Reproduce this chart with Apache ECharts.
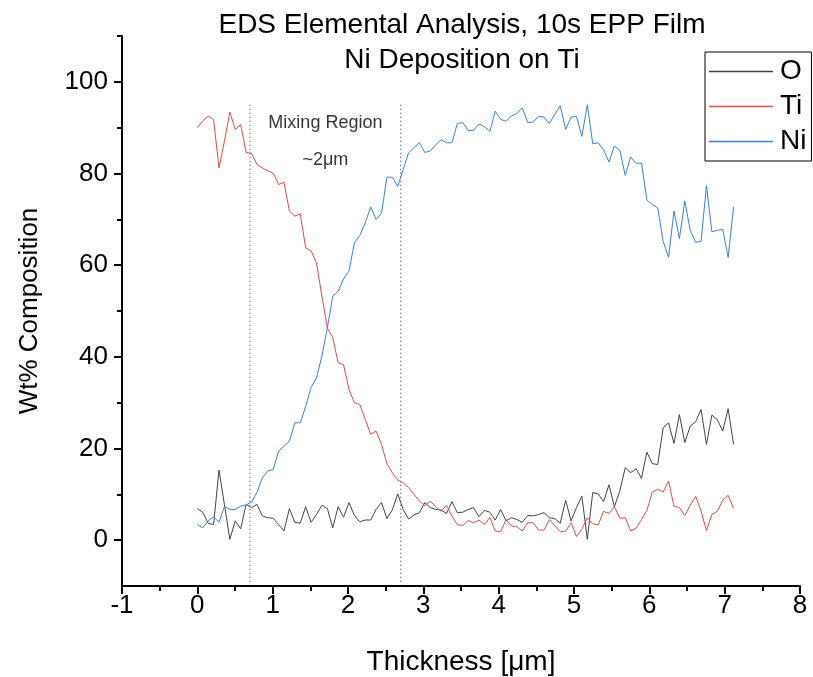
<!DOCTYPE html>
<html>
<head>
<meta charset="utf-8">
<script src="https://cdn.jsdelivr.net/npm/echarts@6/dist/echarts.min.js"></script>
<style>html,body{margin:0;padding:0;background:#fff}#c{width:813px;height:677px}</style>
</head>
<body>
<div id="c"></div>
<script>
// Sampling step along thickness (µm) for the 100 EDS points
const stepUm = 0.0719;
const oWt = [6.9, 6.1, 3.7, 3.4, 15.3, 7.8, 0.2, 4.2, 2.5, 7.8,
  7.1, 7.8, 5.3, 4.9, 4.8, 3.4, 2.0, 6.9, 3.9, 3.7,
  7.3, 3.9, 5.6, 7.6, 6.9, 2.7, 7.3, 5.0, 8.2, 5.4,
  4.0, 4.4, 4.4, 6.7, 8.2, 4.7, 6.6, 10.1, 6.7, 4.6,
  5.5, 6.0, 8.2, 7.1, 6.7, 6.6, 5.8, 8.4, 6.0, 6.1,
  6.7, 7.1, 5.1, 6.5, 6.1, 4.4, 6.7, 4.2, 4.9, 4.5,
  3.9, 5.4, 5.3, 5.6, 6.0, 4.9, 4.7, 3.7, 8.7, 4.2,
  7.1, 9.6, 0.2, 10.4, 10.1, 8.4, 12.1, 7.3, 10.7, 15.8,
  14.7, 15.6, 13.5, 19.2, 16.7, 16.5, 24.5, 25.6, 21.1, 27.4,
  21.3, 24.9, 25.8, 28.5, 20.9, 27.3, 26.3, 23.8, 28.7, 20.9];
const tiWt = [90.0, 91.5, 92.5, 91.8, 81.2, 87.0, 93.4, 89.6, 90.7, 84.6,
  84.4, 82.0, 81.2, 80.6, 80.1, 77.6, 78.1, 71.8, 70.7, 71.2,
  63.8, 63.1, 60.5, 53.2, 46.3, 44.2, 38.7, 38.3, 32.9, 30.0,
  29.6, 26.3, 23.1, 23.8, 20.9, 16.7, 14.7, 13.1, 12.5, 11.5,
  10.0, 8.5, 7.5, 8.5, 7.3, 6.3, 7.6, 5.3, 3.4, 3.2,
  4.3, 3.8, 4.4, 3.4, 5.0, 2.0, 1.8, 4.5, 3.1, 2.9,
  2.0, 3.8, 3.8, 2.2, 2.2, 4.5, 3.1, 1.8, 2.0, 3.8,
  0.8, 2.4, 4.9, 3.6, 3.3, 6.3, 5.8, 7.3, 4.8, 4.9,
  2.0, 2.6, 4.5, 6.5, 10.5, 11.1, 10.5, 12.9, 7.4, 7.1,
  5.4, 7.6, 9.6, 6.3, 2.1, 5.6, 6.3, 8.7, 9.8, 6.9];
const niWt = [3.4, 2.7, 4.2, 5.1, 3.9, 7.4, 6.7, 6.7, 7.4, 7.7,
  8.3, 10.4, 13.6, 15.1, 15.4, 19.4, 20.5, 21.6, 25.6, 25.6,
  29.2, 33.3, 35.4, 40.2, 46.3, 53.2, 54.3, 57.0, 58.7, 64.9,
  66.5, 69.2, 72.7, 70.0, 71.3, 79.2, 79.2, 77.2, 80.9, 84.5,
  85.6, 86.7, 84.6, 84.9, 86.2, 87.4, 86.7, 86.7, 90.9, 91.1,
  89.4, 89.4, 90.8, 90.2, 89.2, 93.6, 91.8, 91.4, 92.6, 93.1,
  94.3, 91.1, 91.2, 92.5, 92.3, 90.9, 92.9, 94.8, 89.6, 92.3,
  92.5, 88.1, 95.0, 86.5, 86.7, 85.2, 82.5, 86.0, 85.1, 79.6,
  83.6, 82.2, 82.3, 74.2, 73.2, 72.5, 65.2, 61.7, 71.8, 65.8,
  74.0, 67.6, 65.0, 65.2, 77.4, 67.3, 67.6, 67.8, 61.7, 72.7];
const regionBounds = [0.7, 2.7];
const regionYRange = [95, -10];
const regionTexts = ['Mixing Region', '~2\u03bcm'];
const regionTextY = [91, 83];
const yMajor = [0, 20, 40, 60, 80, 100];
const yMinor = [10, 30, 50, 70, 90, 110];

const thickness = oWt.map((_, i) => +(i * stepUm).toFixed(4));
const pairs = arr => arr.map((v, i) => [thickness[i], v]);

const FONT = 'Liberation Sans, Arial, sans-serif';
const chart = echarts.init(document.getElementById('c'));

const boundarySeries = regionBounds.map(x => ({
  type: 'line', xAxisIndex: 0, yAxisIndex: 0, symbol: 'none', silent: true,
  data: regionYRange.map(y => [x, y]),
  lineStyle: { color: '#333', width: 1, type: [1, 3] },
  z: 1
}));

chart.setOption({
  animation: false,
  backgroundColor: '#fff',
  graphic: [
    { type: 'text', x: 462, y: 25, style: { text: 'EDS Elemental Analysis, 10s EPP Film', font: '28px ' + FONT, fill: '#000', align: 'center', verticalAlign: 'middle' } },
    { type: 'text', x: 462, y: 60, style: { text: 'Ni Deposition on Ti', font: '28px ' + FONT, fill: '#000', align: 'center', verticalAlign: 'middle' } }
  ],
  legend: {
    data: ['O', 'Ti', 'Ni'],
    orient: 'vertical',
    left: 705, top: 52,
    padding: [4, 5, 4, 4],
    borderColor: '#000', borderWidth: 1,
    itemWidth: 64, itemHeight: 1.5, itemGap: 4,
    icon: 'rect',
    textStyle: { fontSize: 28, lineHeight: 31, color: '#000', fontFamily: FONT, padding: [0, 0, 0, 2] }
  },
  grid: { left: 122, right: 13, top: 36, bottom: 91, containLabel: false, outerBoundsMode: 'none' },
  xAxis: {
    type: 'value', min: -1, max: 8, interval: 1,
    name: 'Thickness [\u03bcm]', nameLocation: 'middle', nameGap: 62,
    nameTextStyle: { fontSize: 28, color: '#000', fontFamily: FONT },
    axisLine: { onZero: false, lineStyle: { color: '#000', width: 2 } },
    axisTick: { length: 8, lineStyle: { color: '#000', width: 2 } },
    minorTick: { show: true, splitNumber: 2, length: 5, lineStyle: { color: '#000', width: 2 } },
    axisLabel: { fontSize: 26, color: '#000', margin: 7, fontFamily: FONT },
    splitLine: { show: false }
  },
  yAxis: [{
    type: 'value', min: -10, max: 110,
    name: 'Wt% Composition', nameLocation: 'middle', nameGap: 79, nameRotate: 90,
    nameTextStyle: { fontSize: 26, color: '#000', fontFamily: FONT },
    axisLine: { onZero: false, lineStyle: { color: '#000', width: 2 } },
    axisTick: { customValues: yMajor, length: 8, lineStyle: { color: '#000', width: 2 } },
    axisLabel: { customValues: yMajor, fontSize: 26, color: '#000', margin: 14, fontFamily: FONT },
    splitLine: { show: false }
  }, {
    type: 'value', min: -10, max: 110, position: 'left',
    axisLine: { show: false, onZero: false },
    axisTick: { show: true, customValues: yMinor, length: 5, lineStyle: { color: '#000', width: 2 } },
    axisLabel: { show: false },
    splitLine: { show: false }
  }],
  series: [
    ...boundarySeries,
    { name: 'O', type: 'line', symbol: 'none', data: pairs(oWt), lineStyle: { color: '#444', width: 1 }, itemStyle: { color: '#444' }, z: 3 },
    { name: 'Ti', type: 'line', symbol: 'none', data: pairs(tiWt), lineStyle: { color: '#e64a4a', width: 1 }, itemStyle: { color: '#e64a4a' }, z: 3 },
    { name: 'Ni', type: 'line', symbol: 'none', data: pairs(niWt), lineStyle: { color: '#3d7fd6', width: 1 }, itemStyle: { color: '#3d7fd6' }, z: 3 },
    { type: 'scatter', symbolSize: 0, silent: true,
      data: regionTexts.map((t, i) => [(regionBounds[0] + regionBounds[1]) / 2, regionTextY[i], t]),
      label: { show: true, position: 'inside', formatter: p => p.data[2], fontSize: 18, color: '#000', textBorderWidth: 0, fontFamily: FONT } }
  ]
});
</script>
</body>
</html>
